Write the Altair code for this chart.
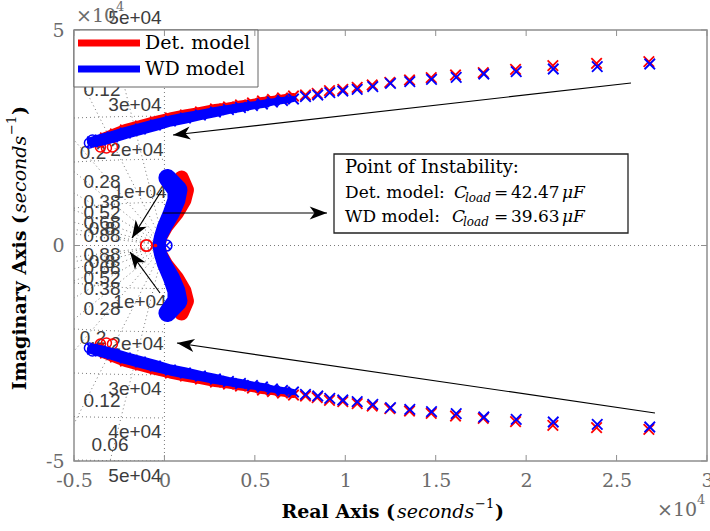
import math
import numpy as np
import pandas as pd
import altair as alt

# ---- plot geometry and axis ranges (seconds^-1) ----
X_MIN, X_MAX = -5000, 30000
Y_MIN, Y_MAX = -50000, 50000
W, H = 633, 431
LEFT, TOP = 74, 30
KX = W / (X_MAX - X_MIN)
KY = H / (Y_MAX - Y_MIN)

x_ticks = [-5000, 0, 5000, 10000, 15000, 20000, 25000, 30000]
y_ticks = [-50000, 0, 50000]

# ---- poles, upper branch, widely spaced part (lower branch is the conjugate) ----
det_re = [26786, 23894, 21477, 19414, 17627, 16095, 14751, 13551, 12461, 11488, 10658, 9862, 9126, 8446, 7799]
det_im = [42645, 42274, 41717, 40882, 40093, 39559, 38933, 38399, 37865, 37239, 36705, 36241, 35916, 35313, 34919]
wd_re = [26836, 23932, 21499, 19452, 17660, 16134, 14768, 13568, 12500, 11521, 10658, 9862, 9143, 8479, 7799]
wd_im = [42111, 41485, 40951, 40325, 39791, 39026, 38562, 38005, 37633, 36845, 36241, 35847, 35452, 34919, 34524]

# ---- poles, upper branch, densely packed part ----
det_band_re = [7135, 6527, 5973, 5420, 4867, 4204, 3540, 2821, 1991, 1162, 332, -498, -1327, -2157, -2710, -3263, -3650]
det_band_im = [34687, 34223, 33875, 33527, 33063, 32599, 32135, 31671, 30974, 30278, 29582, 28654, 27726, 26798, 25870, 24942, 24014]
wd_band_re = [7135, 6527, 5973, 5420, 4867, 4204, 3540, 2821, 1991, 1162, 332, -498, -1327, -2157, -2876, -3540, -3982]
wd_band_im = [33991, 33643, 33295, 32831, 32483, 32019, 31555, 30974, 30278, 29582, 28886, 27958, 27030, 26102, 25174, 24478, 24014]
band_w = [6, 7, 7, 8, 8, 9, 9, 10, 10, 11, 11, 12, 12, 12, 12, 12, 11]

# ---- poles near the imaginary axis (upper half, down to the real axis) ----
det_mid_re = [940, 1161, 1051, 663, 111, -166, -276]
det_mid_im = [15661, 12877, 10557, 7541, 4292, 1972, 0]
wd_mid_re = [166, 719, 664, 387, 0, -221, -304]
wd_mid_im = [15661, 12877, 10557, 7541, 4292, 1972, 0]
det_mid_w = [15, 17, 16, 15, 13, 12, 12]
wd_mid_w = [18, 20, 18, 17, 15, 13, 13]

# ---- zeros ----
det_zero_re = [-3539, -3207, -2875, -3705]
det_zero_im = [22854, 22622, 22854, 24246]
wd_zero_re = [-4147, -3981]
wd_zero_im = [23782, 24478]
det_zero_axis = [-995]
det_dot_axis = [-498]
wd_zero_axis = [111]

# ---- s-plane grid ----
zetas = [0.06, 0.12, 0.2, 0.28, 0.38, 0.52, 0.68, 0.8, 0.88]
wns = [10000, 20000, 30000, 40000, 50000]
zeta_labels = ["0.06", "0.12", "0.2", "0.28", "0.38", "0.52", "0.68", "0.8", "0.88"]
wn_labels = ["1e+04", "2e+04", "3e+04", "4e+04", "5e+04"]

RED = "#ff0000"
BLUE = "#0000ff"
AXIS_GREY = "#8f8f8f"
LABEL_GREY = "#6b6b6b"
GRID_GREY = "#7a7a7a"
XPATH = "M-1,-1L1,1M-1,1L1,-1"
HEAD = "M0,0L-2,-0.75L-1.45,0L-2,0.75Z"
SERIF = "DejaVu Serif"
SANS = "Liberation Sans"


def sx(px):
    return X_MIN + (px - LEFT) / KX


def sy(py):
    return Y_MAX - (py - TOP) / KY


xs = alt.Scale(domain=[X_MIN, X_MAX], nice=False, zero=False)
ys = alt.Scale(domain=[Y_MIN, Y_MAX], nice=False, zero=False)
X = alt.X("re:Q", scale=xs, axis=alt.Axis(values=x_ticks, labelExpr="'' + datum.value / 10000",
                                          ticks=False, domain=False, grid=False, title=None,
                                          labelFont=SERIF, labelFontSize=19, labelColor=LABEL_GREY,
                                          labelPadding=10, labelFlush=False, labelOverlap=False))
Y = alt.Y("im:Q", scale=ys, axis=alt.Axis(values=y_ticks, labelExpr="'' + datum.value / 10000",
                                          ticks=False, domain=False, grid=False, title=None,
                                          labelFont=SERIF, labelFontSize=19, labelColor=LABEL_GREY,
                                          labelPadding=10, labelFlush=False, labelOverlap=False))
X2 = alt.X2("re2:Q")
Y2 = alt.Y2("im2:Q")

# ---- grid lines ----
rows = []
gid = 0
for z in zetas:
    for s in (1, -1):
        R = 2.0e5
        rows += [dict(re=0, im=0, id=gid, k=0),
                 dict(re=-R * z, im=s * R * math.sqrt(1 - z * z), id=gid, k=1)]
        gid += 1
for wn in wns:
    xr = np.linspace(-min(wn, -X_MIN), 0, 25)
    for s in (1, -1):
        for k, xv in enumerate(xr):
            rows.append(dict(re=float(xv), im=s * math.sqrt(wn * wn - xv * xv), id=gid, k=k))
        gid += 1
rows += [dict(re=X_MIN, im=0, id=gid, k=0), dict(re=X_MAX, im=0, id=gid, k=1)]
gid += 1
rows += [dict(re=0, im=Y_MIN, id=gid, k=0), dict(re=0, im=Y_MAX, id=gid, k=1)]
grid_df = pd.DataFrame(rows)
grid = alt.Chart(grid_df).mark_line(color=GRID_GREY, strokeWidth=1, strokeDash=[1, 3], clip=True).encode(
    x=X, y=Y, detail="id:N", order="k:Q")

# grid labels (pixel anchors of the text centres)
zeta_px = [110, 102, 93, 102, 102, 102, 102, 102, 102]
zeta_py = [46, 90, 153, 182, 202, 213, 223, 229, 236]
wn_px = [140, 137, 135, 135, 135]
wn_py = [192, 150, 105, 62, 18]
lab_rows = []
for t, px, py in zip(zeta_labels, zeta_px, zeta_py):
    lab_rows.append(dict(re=sx(px), im=sy(py), t=t))
    lab_rows.append(dict(re=sx(px), im=-sy(py), t=t))
for t, px, py in zip(wn_labels, wn_px, wn_py):
    lab_rows.append(dict(re=sx(px), im=sy(py), t=t))
    lab_rows.append(dict(re=sx(px), im=-sy(py) - 800, t=t))
grid_labels = alt.Chart(pd.DataFrame(lab_rows)).mark_text(
    font=SANS, fontSize=19, color="#3c3c3c", baseline="middle", align="center").encode(x=X, y=Y, text="t:N")


# ---- pole / zero tables ----
def conj_points(re, im):
    return pd.DataFrame({"re": list(re) + list(re), "im": list(im) + [-v for v in im]})


def band(re, im, w):
    up = pd.DataFrame({"re": re, "im": im, "w": w, "k": range(len(re)), "b": "up"})
    lo = pd.DataFrame({"re": re, "im": [-v for v in im], "w": w, "k": range(len(re)), "b": "lo"})
    return pd.concat([up, lo])


def mid(re, im, w):
    full_re = list(re) + list(reversed(re[:-1]))
    full_im = list(im) + [-v for v in reversed(im[:-1])]
    full_w = list(w) + list(reversed(w[:-1]))
    return pd.DataFrame({"re": full_re, "im": full_im, "w": full_w, "k": range(len(full_re)), "b": "mid"})


def model_layers(color, sp_re, sp_im, b_re, b_im, m_re, m_im, mid_w, z_re, z_im):
    trails = pd.concat([band(b_re, b_im, band_w), mid(m_re, m_im, mid_w)])
    trail = alt.Chart(trails).mark_trail(color=color).encode(
        x=X, y=Y, size=alt.Size("w:Q", scale=None, legend=None), detail="b:N", order="k:Q")
    pts = conj_points(list(sp_re) + list(b_re), list(sp_im) + list(b_im))
    crosses = alt.Chart(pts).mark_point(shape=XPATH, filled=False, color=color, size=110,
                                        strokeWidth=1.8, opacity=1).encode(x=X, y=Y)
    zeros = alt.Chart(conj_points(z_re, z_im)).mark_point(
        shape="circle", filled=False, color=color, size=100, strokeWidth=1.5, opacity=1).encode(x=X, y=Y)
    return [trail, crosses, zeros]


det_layers = model_layers(RED, det_re, det_im, det_band_re, det_band_im,
                          det_mid_re, det_mid_im, det_mid_w, det_zero_re, det_zero_im)
wd_layers = model_layers(BLUE, wd_re, wd_im, wd_band_re, wd_band_im,
                         wd_mid_re, wd_mid_im, wd_mid_w, wd_zero_re, wd_zero_im)

axis_marks = [
    alt.Chart(pd.DataFrame({"re": det_zero_axis, "im": [0]})).mark_point(
        shape="circle", filled=False, color=RED, size=130, strokeWidth=1.8, opacity=1).encode(x=X, y=Y),
    alt.Chart(pd.DataFrame({"re": det_dot_axis, "im": [0]})).mark_point(
        shape="circle", filled=True, color=RED, size=14, opacity=1).encode(x=X, y=Y),
    alt.Chart(pd.DataFrame({"re": wd_zero_axis, "im": [0]})).mark_point(
        shape="circle", filled=False, color=BLUE, size=120, strokeWidth=1.6, opacity=1).encode(x=X, y=Y),
    alt.Chart(pd.DataFrame({"re": wd_zero_axis, "im": [0]})).mark_point(
        shape=XPATH, filled=False, color=BLUE, size=50, strokeWidth=1.5, opacity=1).encode(x=X, y=Y),
]

# ---- annotation arrows (tail -> tip, pixel anchors) ----
arrows_px = [((631, 83), (173, 135)),
             ((655, 413), (177, 343)),
             ((163, 213), (327, 213)),
             ((162, 190), (132, 238)),
             ((160, 293), (130, 252))]
arr_rows = []
for (tx, ty), (hx, hy) in arrows_px:
    ang = math.degrees(math.atan2(hy - ty, hx - tx)) % 360
    arr_rows.append(dict(re=sx(tx), im=sy(ty), re2=sx(hx), im2=sy(hy), ang=ang))
arr_df = pd.DataFrame(arr_rows)
arrow_lines = alt.Chart(arr_df).mark_rule(color="black", strokeWidth=1.2).encode(x=X, y=Y, x2=X2, y2=Y2)
arrow_heads = alt.Chart(arr_df).mark_point(shape=HEAD, filled=True, color="black", size=300, opacity=1).encode(
    x=alt.X("re2:Q", scale=xs), y=alt.Y("im2:Q", scale=ys), angle=alt.Angle("ang:Q", scale=None))


# ---- boxes ----
def box(x0, y0, x1, y1, stroke, sw):
    df = pd.DataFrame([dict(re=sx(x0), im=sy(y0), re2=sx(x1), im2=sy(y1))])
    return alt.Chart(df).mark_rect(fill="white", stroke=stroke, strokeWidth=sw).encode(x=X, y=Y, x2=X2, y2=Y2)


def texts(items, **kw):
    df = pd.DataFrame([dict(re=sx(px), im=sy(py), t=t) for t, px, py in items])
    return alt.Chart(df).mark_text(baseline="middle", **kw).encode(x=X, y=Y, text="t:N")


info_box = box(334, 154, 628, 233, "#222222", 1.3)
info_head = texts([("Point of Instability:", 345, 168)], font=SERIF, fontSize=18, color="black", align="left")
info_plain = texts([("Det. model:", 345, 193), ("=", 494, 193), ("42.47", 511, 193),
                    ("WD model:", 345, 217), ("=", 494, 217), ("39.63", 511, 217)],
                   font=SERIF, fontSize=17, color="black", align="left")
info_ital = texts([("C", 454, 193), ("\u03bcF", 562, 193), ("C", 452, 217), ("\u03bcF", 562, 217)],
                  font=SERIF, fontSize=17, fontStyle="italic", color="black", align="left")
info_sub = texts([("load", 465, 198), ("load", 463, 222)],
                 font=SERIF, fontSize=12, fontStyle="italic", color="black", align="left")

# ---- legend ----
legend_box = box(74, 30, 258, 87, "#666666", 1)
leg_df = pd.DataFrame([dict(re=sx(78), re2=sx(140), im=sy(43), c="Det. model"),
                       dict(re=sx(78), re2=sx(140), im=sy(69), c="WD model")])
legend_lines = alt.Chart(leg_df).mark_rule(strokeWidth=7).encode(
    x=X, x2=X2, y=Y, color=alt.Color("c:N", scale=alt.Scale(domain=["Det. model", "WD model"], range=[RED, BLUE]),
                                     legend=None))
legend_text = texts([("Det. model", 145, 43), ("WD model", 145, 69)],
                    font=SERIF, fontSize=19, color="black", align="left")

# ---- inward ticks on all four sides ----
tl = 6
tick_rows = []
for v in x_ticks:
    tick_rows.append(dict(re=v, re2=v, im=Y_MIN, im2=Y_MIN + tl / KY))
    tick_rows.append(dict(re=v, re2=v, im=Y_MAX, im2=Y_MAX - tl / KY))
for v in y_ticks:
    tick_rows.append(dict(re=X_MIN, re2=X_MIN + tl / KX, im=v, im2=v))
    tick_rows.append(dict(re=X_MAX, re2=X_MAX - tl / KX, im=v, im2=v))
ticks = alt.Chart(pd.DataFrame(tick_rows)).mark_rule(color=AXIS_GREY, strokeWidth=1).encode(
    x=X, y=Y, x2=X2, y2=Y2)

# ---- exponent labels ----
exp_main = texts([("\u00d710", 76, 16), ("\u00d710", 657, 510)], font=SERIF, fontSize=19,
                 color=LABEL_GREY, align="left")
exp_sup = texts([("4", 116, 7), ("4", 697, 500)], font=SERIF, fontSize=13, color=LABEL_GREY, align="left")

# ---- axis titles ----
xt_bold = texts([("Real Axis (", 395, 512)], font=SERIF, fontSize=19, fontWeight="bold",
                color="black", align="right")
xt_close = texts([(")", 495, 512)], font=SERIF, fontSize=19, fontWeight="bold", color="black", align="left")
xt_ital = texts([("seconds", 397, 512)], font=SERIF, fontSize=19, fontStyle="italic", color="black", align="left")
xt_sup = texts([("\u22121", 475, 504)], font=SERIF, fontSize=13, color="black", align="left")

yt_bold = texts([("Imaginary Axis (", 20, 215)], font=SERIF, fontSize=19, fontWeight="bold",
                color="black", align="right", angle=270)
yt_close = texts([(")", 20, 115)], font=SERIF, fontSize=19, fontWeight="bold", color="black",
                 align="left", angle=270)
yt_ital = texts([("seconds", 20, 213)], font=SERIF, fontSize=19, fontStyle="italic", color="black",
                align="left", angle=270)
yt_sup = texts([("\u22121", 12, 135)], font=SERIF, fontSize=13, color="black", align="left", angle=270)

layers = ([grid, grid_labels] + det_layers + wd_layers + axis_marks +
          [arrow_lines, arrow_heads, info_box, info_head, info_plain, info_ital, info_sub,
           legend_box, legend_lines, legend_text, ticks, exp_main, exp_sup,
           xt_bold, xt_close, xt_ital, xt_sup, yt_bold, yt_close, yt_ital, yt_sup])

chart = alt.layer(*layers).properties(
    width=W, height=H,
    autosize=alt.AutoSizeParams(type="none"),
    padding={"left": LEFT, "top": TOP, "right": 710 - LEFT - W, "bottom": 531 - TOP - H},
    background="white",
).configure_view(stroke=AXIS_GREY, strokeWidth=1.5)

chart.save("out.html", embed_options={"renderer": "svg", "actions": False})
